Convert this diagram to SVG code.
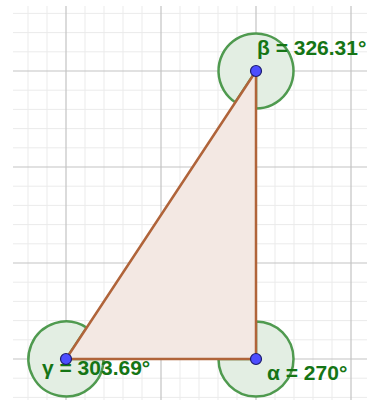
<svg xmlns="http://www.w3.org/2000/svg" width="367" height="404" viewBox="0 0 367 404">
<style>
.minor{stroke:#ebebeb;stroke-width:1;fill:none}
.major{stroke:#c4c4c4;stroke-width:1.2;fill:none}
.angle{fill:#e3eee3;stroke:#4f9a4f;stroke-width:2.5}
.tri{fill:#f3e8e3;stroke:#b0643a;stroke-width:2.5;stroke-linejoin:round}
.pt{fill:#4d4dff;stroke:#1c1c6e;stroke-width:1.2}
.lbl{font-family:"Liberation Sans",Arial,sans-serif;font-size:21px;font-weight:bold;fill:#157515}
</style>
<rect width="367" height="404" fill="#ffffff"/>
<g id="grid">
<g class="minor">
<path d="M28 6V400M47 6V400M85 6V400M104 6V400M123 6V400M142 6V400M180 6V400M199 6V400M218 6V400M237 6V400M275 6V400M294 6V400M313 6V400M332 6V400"/>
<path d="M13 13.4H367M13 32.6H367M13 51.8H367M13 90.2H367M13 109.4H367M13 128.6H367M13 147.8H367M13 186.2H367M13 205.4H367M13 224.6H367M13 243.8H367M13 282.2H367M13 301.4H367M13 320.6H367M13 339.8H367M13 378.2H367M13 397.4H367"/>
</g>
<g class="major">
<path d="M66 6V400M161 6V400M256 6V400M351 6V400"/>
<path d="M13 71H367M13 167H367M13 263H367M13 359H367"/>
</g>
</g>
<g id="angle-alpha"><path class="angle" d="M256 359L256 321.5A37.5 37.5 0 1 1 218.5 359Z"/></g>
<g id="angle-beta"><path class="angle" d="M256 71L256 108.5A37.5 37.5 0 1 0 235.35 102.3Z"/></g>
<g id="angle-gamma"><path class="angle" d="M66 359L103.5 359A37.5 37.5 0 1 1 86.65 327.7Z"/></g>
<g id="triangle"><polygon class="tri" points="66,359 256,359 256,71"/></g>
<g id="labels">
<text class="lbl" x="257" y="55">β = 326.31°</text>
<text class="lbl" x="42" y="375">γ = 303.69°</text>
<text class="lbl" x="267" y="380">α = 270°</text>
</g>
<g id="points">
<circle id="A" class="pt" cx="256" cy="359" r="5.5"/>
<circle id="B" class="pt" cx="256" cy="71" r="5.5"/>
<circle id="C" class="pt" cx="66" cy="359" r="5.5"/>
</g>
</svg>
